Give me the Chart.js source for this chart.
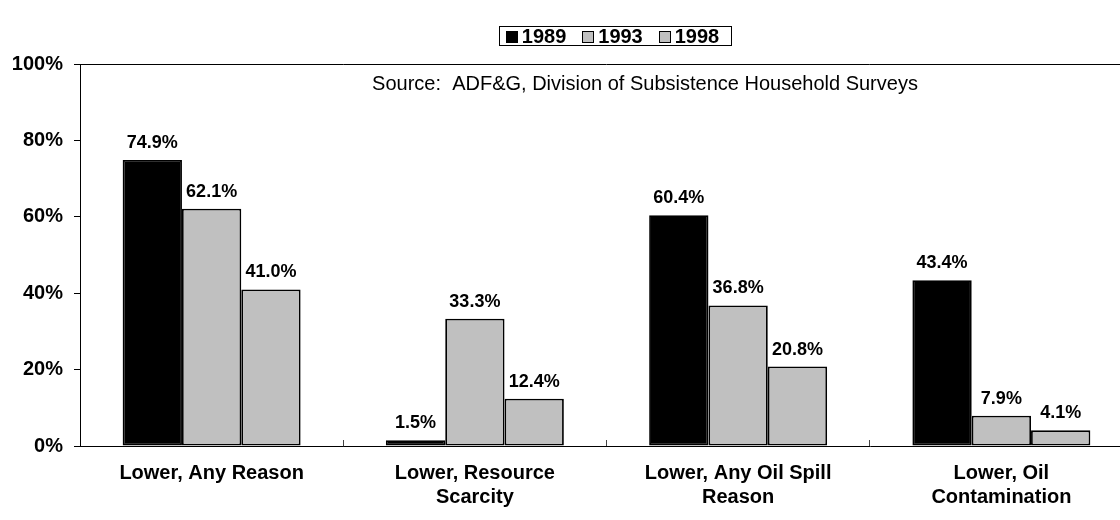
<!DOCTYPE html>
<html>
<head>
<meta charset="utf-8">
<script src="https://cdn.jsdelivr.net/npm/chart.js@4"></script>
<style>
  html, body { margin: 0; padding: 0; background: #fff; overflow: hidden; }
  #wrap { width: 1140px; height: 520px; position: relative; }
</style>
</head>
<body>
<div id="wrap"><canvas id="chart"></canvas></div>
<script>
// Chart data
const categories = [
    'Lower, Any Reason',
    ['Lower, Resource', 'Scarcity'],
    ['Lower, Any Oil Spill', 'Reason'],
    ['Lower, Oil', 'Contamination']
];
const years = ['1989', '1993', '1998'];
const values1989 = [74.9, 1.5, 60.4, 43.4];
const values1993 = [62.1, 33.3, 36.8, 7.9];
const values1998 = [41.0, 12.4, 20.8, 4.1];
const yTicks = [0, 20, 40, 60, 80, 100];
const sourceNote = 'Source:  ADF&G, Division of Subsistence Household Surveys';

const FONT = "'Liberation Sans', Arial, sans-serif";
const barColors = ['#000000', '#C0C0C0', '#C0C0C0'];

// Value labels above each bar
const valueLabels = {
    id: 'valueLabels',
    afterDatasetsDraw(chart) {
        const ctx = chart.ctx;
        ctx.save();
        ctx.font = 'bold 18px ' + FONT;
        ctx.fillStyle = '#000';
        ctx.textAlign = 'center';
        ctx.textBaseline = 'alphabetic';
        chart.data.datasets.forEach((ds, i) => {
            chart.getDatasetMeta(i).data.forEach((bar, j) => {
                ctx.fillText(ds.data[j].toFixed(1) + '%', bar.x, bar.y - 12);
            });
        });
        ctx.restore();
    }
};

// Frame top line, source note and boxed legend
const decorations = {
    id: 'decorations',
    afterDraw(chart) {
        const ctx = chart.ctx;
        const area = chart.chartArea;
        ctx.save();

        // top border of the plot area
        ctx.strokeStyle = '#000';
        ctx.lineWidth = 1;
        ctx.beginPath();
        ctx.moveTo(area.left, area.top + 0.5);
        ctx.lineTo(area.right, area.top + 0.5);
        ctx.stroke();

        // source note
        ctx.font = '20px ' + FONT;
        ctx.fillStyle = '#000';
        ctx.textAlign = 'center';
        ctx.textBaseline = 'middle';
        ctx.fillText(sourceNote, 645, 84);

        // legend
        ctx.font = 'bold 20px ' + FONT;
        const sw = 12, gap = 4, itemGap = 16, padL = 7, padR = 12;
        let total = 0;
        const widths = years.map(y => ctx.measureText(y).width);
        widths.forEach(w => { total += sw + gap + w; });
        total += itemGap * (years.length - 1);
        const boxW = total + padL + padR;
        const boxX = 615 - boxW / 2;
        const boxY = 26, boxH = 19;
        ctx.fillStyle = '#fff';
        ctx.fillRect(boxX, boxY, boxW, boxH);
        ctx.strokeStyle = '#000';
        ctx.strokeRect(Math.round(boxX) + 0.5, boxY + 0.5, Math.round(boxW), boxH);
        let x = boxX + padL;
        const cy = boxY + boxH / 2 + 1;
        ctx.textAlign = 'left';
        years.forEach((y, i) => {
            ctx.fillStyle = barColors[i];
            ctx.fillRect(Math.round(x), Math.round(cy - 6), sw, sw);
            ctx.strokeStyle = '#000';
            ctx.strokeRect(Math.round(x) + 0.5, Math.round(cy - 6) + 0.5, sw - 1, sw - 1);
            ctx.fillStyle = '#000';
            ctx.fillText(y, x + sw + gap, cy + 1);
            x += sw + gap + widths[i] + itemGap;
        });
        ctx.restore();
    }
};

const ctx = document.getElementById('chart').getContext('2d');
const chart = new Chart(ctx, {
    type: 'bar',
    data: {
        labels: categories,
        datasets: [values1989, values1993, values1998].map((vals, i) => ({
            label: years[i],
            data: vals,
            backgroundColor: barColors[i],
            borderColor: '#000',
            borderWidth: 1.8,
            borderSkipped: false,
            categoryPercentage: 0.676,
            barPercentage: 1.0
        }))
    },
    options: {
        responsive: true,
        maintainAspectRatio: false,
        animation: false,
        layout: { padding: { top: 64, right: 7, left: 0, bottom: 0 } },
        plugins: {
            legend: { display: false },
            title: { display: false },
            tooltip: { enabled: false }
        },
        scales: {
            x: {
                grid: {
                    display: true,
                    drawOnChartArea: false,
                    drawTicks: true,
                    tickLength: -6,
                    color: '#444',
                    offset: true
                },
                border: { display: true, color: '#000', width: 1 },
                ticks: {
                    color: '#000',
                    font: { family: FONT, size: 20, weight: 'bold' },
                    padding: 21,
                    maxRotation: 0,
                    autoSkip: false
                },
                afterFit(scale) { scale.height = 74; }
            },
            y: {
                min: 0,
                max: 100,
                afterBuildTicks(scale) { scale.ticks = yTicks.map(v => ({ value: v })); },
                grid: {
                    display: true,
                    drawOnChartArea: false,
                    drawTicks: true,
                    tickLength: 6,
                    color: '#000'
                },
                border: { display: true, color: '#000', width: 1 },
                ticks: {
                    color: '#000',
                    font: { family: FONT, size: 20, weight: 'bold' },
                    padding: 11,
                    callback: v => v + '%'
                },
                afterFit(scale) { scale.width = 80; }
            }
        }
    },
    plugins: [valueLabels, decorations]
});
</script>
</body>
</html>
